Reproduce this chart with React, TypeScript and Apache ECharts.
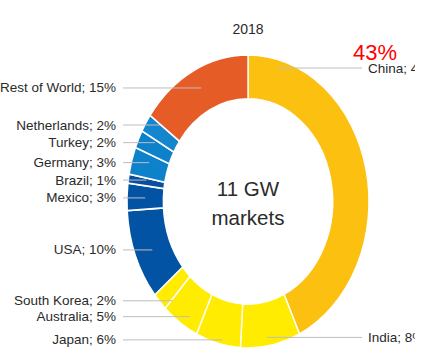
import React, { useEffect, useRef } from "react";
import * as echarts from "echarts";

// ---- data ----
const title = "2018";
const centerLines = ["11 GW", "markets"];
const highlight = "43%";
const categories = [
  "China",
  "India",
  "Japan",
  "Australia",
  "South Korea",
  "USA",
  "Mexico",
  "Brazil",
  "Germany",
  "Turkey",
  "Netherlands",
  "Rest of World",
];
const shares = [43, 8, 6, 5, 2, 10, 3, 1, 3, 2, 2, 15];

// ---- styles / layout ----
const sliceColors = [
  "#FCC011",
  "#FFEC00",
  "#FFEC00",
  "#FFEC00",
  "#FFEC00",
  "#0253A4",
  "#0253A4",
  "#0A4F9E",
  "#0E81CB",
  "#0E81CB",
  "#1486CD",
  "#E65C27",
];
// vertical nudges of each label from its slice's outer mid-angle height
const labelNudge = [-101.5, -8, -3.5, -6, -1, -5.5, 1, 1.5, 2, 3.5, 2, 17];

export default function App() {
  const ref = useRef<HTMLDivElement>(null);

  useEffect(() => {
    if (!ref.current) return;
    const chart = echarts.init(ref.current, null, { renderer: "svg" });
    const total = shares.reduce((a, b) => a + b, 0);
    const starts: number[] = [];
    let acc = 0;
    shares.forEach((v) => {
      starts.push(acc);
      acc += v;
    });

    const CX = 248;
    const CY = 201.5;
    const R = 121;
    const R0 = 84.7;
    const SY = 1.2107;
    const FONT = '"Liberation Sans", Arial, Helvetica, sans-serif';
    const TWO_PI = Math.PI * 2;
    const INK = "#2a2a2a";

    chart.setOption({
      animation: false,
      graphic: [
        {
          type: "text",
          position: [CX, 29],
          style: {
            text: title,
            align: "center",
            verticalAlign: "middle",
            font: `14px ${FONT}`,
            fill: INK,
          },
        },
        {
          type: "text",
          position: [CX, 188],
          style: {
            text: centerLines[0],
            align: "center",
            verticalAlign: "middle",
            font: `20.5px ${FONT}`,
            fill: INK,
          },
        },
        {
          type: "text",
          position: [CX, 217],
          style: {
            text: centerLines[1],
            align: "center",
            verticalAlign: "middle",
            font: `20.5px ${FONT}`,
            fill: INK,
          },
        },
        {
          type: "text",
          position: [353, 52],
          z: 10,
          style: {
            text: highlight,
            align: "left",
            verticalAlign: "middle",
            font: `22px ${FONT}`,
            fill: "#FF0000",
          },
        },
      ],
      series: [
        {
          type: "custom",
          coordinateSystem: "none",
          data: shares.map((v, i) => [i, v, starts[i]]),
          renderItem: (params: any, api: any) => {
            const i = params.dataIndex;
            const v = api.value(1) as number;
            const s = api.value(2) as number;
            const t0 = (s / total) * TWO_PI;
            const t1 = ((s + v) / total) * TWO_PI;
            const tm = (t0 + t1) / 2;
            const right = Math.sin(tm) > 0;
            const ly = CY - R * SY * Math.cos(tm) + labelNudge[i];
            let ex = CX + ((R + R0) / 2) * Math.sin(tm);
            const dy = (ly - CY) / (R * SY);
            const half = R * Math.sqrt(Math.max(0, 1 - dy * dy));
            if (right) ex = Math.min(ex, CX + half - 20);
            else ex = Math.max(ex, CX - half + 12);
            return {
              type: "group",
              children: [
                {
                  type: "sector",
                  x: CX,
                  y: CY,
                  scaleY: SY,
                  shape: {
                    cx: 0,
                    cy: 0,
                    r: R,
                    r0: R0,
                    startAngle: t0 - Math.PI / 2,
                    endAngle: t1 - Math.PI / 2,
                    clockwise: true,
                  },
                  style: { fill: sliceColors[i], stroke: "#ffffff", lineWidth: 1.4 },
                },
                {
                  type: "line",
                  shape: right
                    ? { x1: ex, y1: ly, x2: 362, y2: ly }
                    : { x1: 123, y1: ly, x2: ex, y2: ly },
                  style: { stroke: "#BDBDBD", lineWidth: 1 },
                },
                {
                  type: "text",
                  x: right ? 368 : 116,
                  y: ly,
                  style: {
                    text: `${categories[i]}; ${v}%`,
                    align: right ? "left" : "right",
                    verticalAlign: "middle",
                    textAlign: right ? "left" : "right",
                    textVerticalAlign: "middle",
                    font: `13.5px ${FONT}`,
                    fill: INK,
                  },
                },
              ],
            };
          },
        },
      ],
    });

    return () => chart.dispose();
  }, []);

  return (
    <div
      ref={ref}
      style={{
        position: "absolute",
        left: 0,
        top: 0,
        width: 415,
        height: 360,
        overflow: "hidden",
        background: "#fff",
      }}
    />
  );
}
